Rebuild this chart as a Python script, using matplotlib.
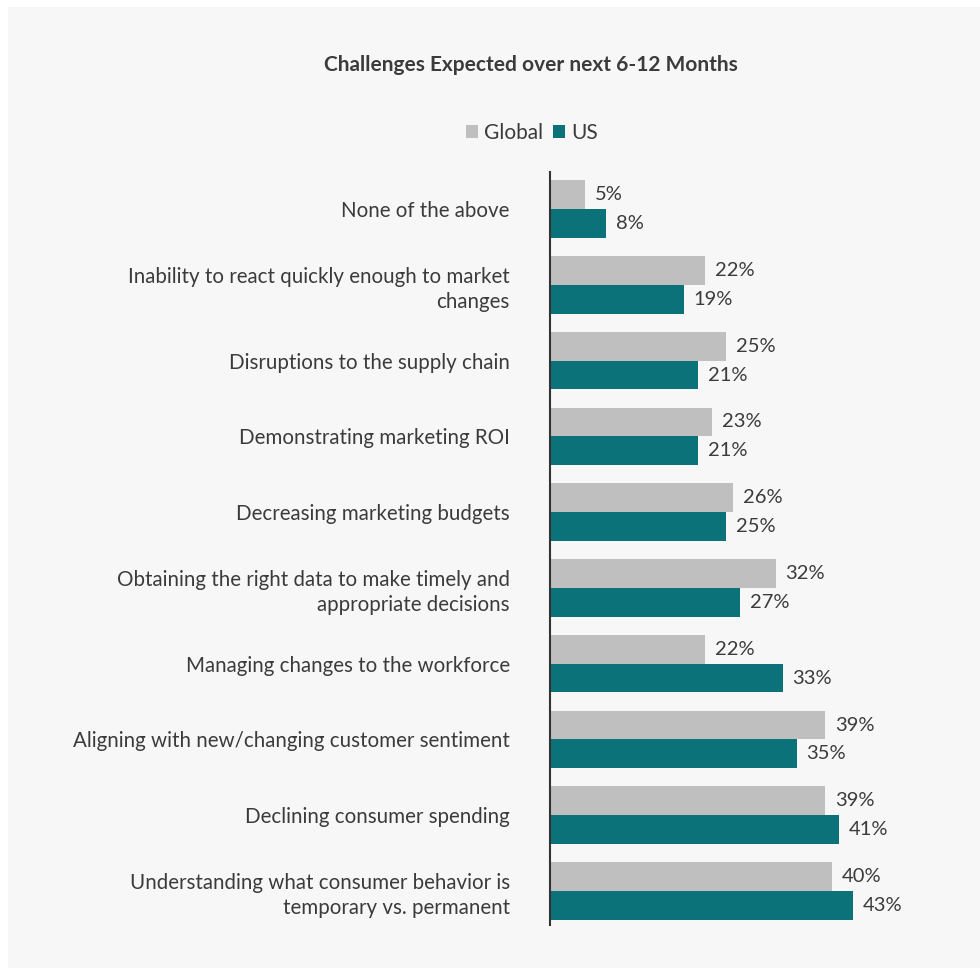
import matplotlib.pyplot as plt
import numpy as np
from matplotlib.patches import Patch, Rectangle

plt.rcParams["font.family"] = ["Lato", "DejaVu Sans"]

categories = [
    "None of the above",
    "Inability to react quickly enough to market\nchanges",
    "Disruptions to the supply chain",
    "Demonstrating marketing ROI",
    "Decreasing marketing budgets",
    "Obtaining the right data to make timely and\nappropriate decisions",
    "Managing changes to the workforce",
    "Aligning with new/changing customer sentiment",
    "Declining consumer spending",
    "Understanding what consumer behavior is\ntemporary vs. permanent",
]
global_vals = [5, 22, 25, 23, 26, 32, 22, 39, 39, 40]
us_vals = [8, 19, 21, 21, 25, 27, 33, 35, 41, 43]
series_names = ["Global", "US"]

GRAY = "#bfbfbf"
TEAL = "#0b7279"
TEXT = "#3b3b3b"
BG = "#f7f7f7"

fig = plt.figure(figsize=(9.8, 9.72), dpi=100)
fig.patch.set_facecolor("white")
# light panel with a thin white rim at top/left/bottom
fig.patches.append(Rectangle((8 / 980, 4 / 972), 1, 1 - 11 / 972,
                             transform=fig.transFigure, facecolor=BG,
                             edgecolor="none", zorder=-10))

ax = fig.add_axes([550 / 980, 47 / 972, 400 / 980, 753 / 972])
ax.set_facecolor("none")

y = np.arange(len(categories))
h = 0.38
ax.barh(y - h / 2, global_vals, height=h, color=GRAY)
ax.barh(y + h / 2, us_vals, height=h, color=TEAL)

for yi, g, u in zip(y, global_vals, us_vals):
    ax.annotate(f"{g}%", (g, yi - h / 2), xytext=(7, 0), textcoords="offset points",
                va="center", ha="left", fontsize=14.5, color=TEXT)
    ax.annotate(f"{u}%", (u, yi + h / 2), xytext=(7, 0), textcoords="offset points",
                va="center", ha="left", fontsize=14.5, color=TEXT)

ax.set_xlim(0, 400 / 7.05)
ax.set_ylim(9.45, -0.49)
ax.set_yticks(y)
ax.set_yticklabels(categories, fontsize=14.8, color=TEXT, linespacing=1.3)
ax.tick_params(axis="y", length=0, pad=29)
ax.set_xticks([])
for side in ["top", "right", "bottom"]:
    ax.spines[side].set_visible(False)
ax.spines["left"].set_color("#333333")
ax.spines["left"].set_linewidth(1.5)

fig.text(531 / 980, 1 - 65 / 972, "Challenges Expected over next 6-12 Months",
         ha="center", va="center", fontsize=15, fontweight="bold", color=TEXT)

handles = [Patch(facecolor=GRAY), Patch(facecolor=TEAL)]
fig.legend(handles, series_names, loc="center", bbox_to_anchor=(532 / 980, 1 - 133 / 972),
           ncol=2, frameon=False, fontsize=15, handlelength=0.55, handleheight=0.55,
           handletextpad=0.3, columnspacing=0.5, labelcolor=TEXT)

fig.savefig("out.png", dpi=100, facecolor=fig.get_facecolor())
